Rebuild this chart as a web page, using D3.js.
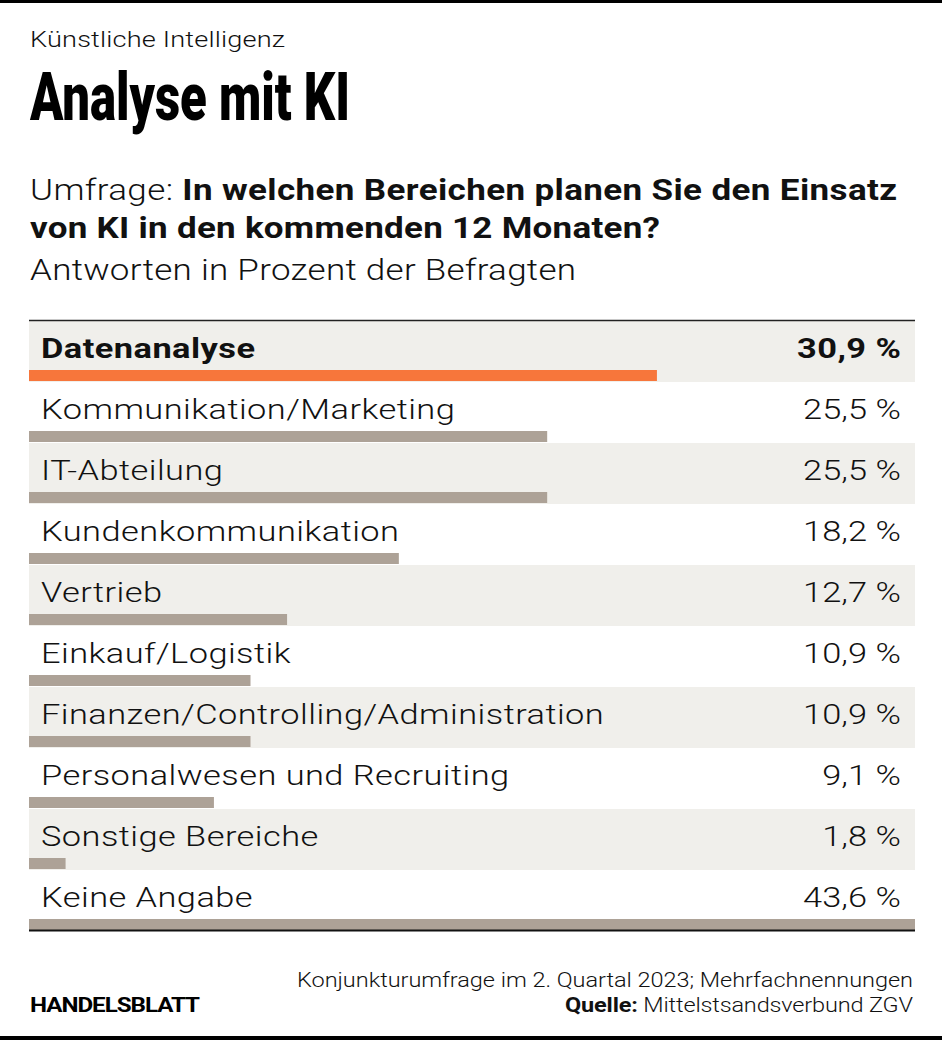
<!DOCTYPE html>
<html><head><meta charset="utf-8">
<script src="https://cdn.jsdelivr.net/npm/d3@7"></script>
<style>body{margin:0;background:#fff} svg{display:block}</style>
</head><body><svg id="c" width="942" height="1040"></svg>
<script>
const categories = ["Datenanalyse","Kommunikation/Marketing","IT-Abteilung","Kundenkommunikation","Vertrieb","Einkauf/Logistik","Finanzen/Controlling/Administration","Personalwesen und Recruiting","Sonstige Bereiche","Keine Angabe"];
const values = [30.9,25.5,25.5,18.2,12.7,10.9,10.9,9.1,1.8,43.6];
const highlight = "Datenanalyse";
const kicker = "Künstliche Intelligenz";
const title = "Analyse mit KI";
const questionLead = "Umfrage: ";
const questionLine1 = "In welchen Bereichen planen Sie den Einsatz";
const questionLine2 = "von KI in den kommenden 12 Monaten?";
const unitNote = "Antworten in Prozent der Befragten";
const footNote = "Konjunkturumfrage im 2. Quartal 2023; Mehrfachnennungen";
const sourceLabel = "Quelle:";
const sourceText = " Mittelstsandsverbund ZGV";
const brand = "HANDELSBLATT";

const FONT = "Roboto, 'Noto Sans', sans-serif";
const INK = "#111";
const svg = d3.select("#c");

// helper: text inside a horizontally scaled group, letter-spacing fitted to a target width
function addText(parent, tx, ty, sx, opts) {
  const g = parent.append("g").attr("transform", `translate(${tx},${ty}) scale(${sx},1)`);
  const t = g.append("text").attr("font-family", FONT).attr("fill", opts.fill || INK)
    .attr("font-size", opts.size).attr("text-anchor", opts.end ? "end" : "start");
  if (opts.weight) t.attr("font-weight", opts.weight);
  return t;
}
function fitLS(t, target, sx, end) {
  t.attr("letter-spacing", 0).attr("dx", 0);
  const w = t.node().getComputedTextLength();
  const n = t.node().getNumberOfChars();
  const ls = (target / sx - w) / Math.max(1, n - 1);
  t.attr("letter-spacing", ls);
  if (end) t.attr("dx", ls);
  return ls;
}

// frame lines
svg.append("rect").attr("x",0).attr("y",0).attr("width",942).attr("height",3).attr("fill","#000");
svg.append("rect").attr("x",0).attr("y",1036).attr("width",942).attr("height",4).attr("fill","#000");

// ---- calibrate horizontal scale + tracking for label font from two reference widths
const LSIZE = 28.5;
const probe = svg.append("text").attr("font-family",FONT).attr("font-size",LSIZE).attr("font-weight",300);
function nat(s){ probe.text(s); return [probe.node().getComputedTextLength(), probe.node().getNumberOfChars()]; }
const [W1,n1] = nat("Kommunikation/Marketing");
const [W2,n2] = nat("Finanzen/Controlling/Administration");
const [WV,nV] = nat(d3.formatLocale({decimal:",", thousands:".", grouping:[3], currency:["","€"]}).format(".1f")(25.5) + " %");
probe.remove();
const T1 = 414, T2 = 563;
const a = (T2*W1 - T1*W2) / ((n2-1)*W1 - (n1-1)*W2);
const SX = (T1 - (n1-1)*a) / W1;
const LS = a / SX;
const LSV = (98 / SX - WV) / (nV - 1);

// header
const k = addText(svg, 30, 47, SX, {size:22.5, weight:300}).text(kicker);
fitLS(k, 255, SX);
svg.append("text").attr("x",30).attr("y",120).attr("font-family",FONT).attr("font-weight",900)
  .attr("font-size",67).attr("fill","#000").attr("textLength",320).attr("lengthAdjust","spacingAndGlyphs").text(title);

const q1 = addText(svg, 30, 200, SX, {size:29});
q1.append("tspan").attr("font-weight",300).text(questionLead);
q1.append("tspan").attr("font-weight",700).text(questionLine1);
fitLS(q1, 867, SX);
const q2 = addText(svg, 30, 238, SX, {size:29, weight:700}).text(questionLine2);
fitLS(q2, 630, SX);
const u = addText(svg, 30, 280, SX, {size:29, weight:300}).text(unitNote);
fitLS(u, 546, SX);

// chart
const x = d3.scaleLinear().domain([0, d3.max(values)]).range([29, 915]);
const y = d3.scaleBand().domain(categories).range([321, 931]).padding(0);
const step = y.step();
const barH = 11, barOff = 49, textOff = 37;
const fmt = d3.formatLocale({decimal:",", thousands:".", grouping:[3], currency:["","€"]}).format(".1f");

const rows = svg.append("g").selectAll("g").data(categories).join("g")
  .attr("transform", d => `translate(0,${y(d)})`);
rows.filter((d,i) => i % 2 === 0).append("rect")
  .attr("x", x(0)).attr("y", 0).attr("width", x.range()[1]-x(0)).attr("height", step).attr("fill","#f0efeb");
rows.append("rect")
  .attr("x", x(0)).attr("y", barOff).attr("height", barH)
  .attr("width", (d,i) => x(values[i]) - x(0))
  .attr("fill", d => d === highlight ? "#f7763b" : "#ada297");

rows.each(function(d, i) {
  const row = d3.select(this);
  const hl = d === highlight;
  const lt = addText(row, 41, textOff, SX, {size:LSIZE, weight: hl ? 700 : 300}).text(d);
  if (hl) fitLS(lt, 214, SX); else lt.attr("letter-spacing", LS);
  const vt = addText(row, 901, textOff, SX, {size:LSIZE, weight: hl ? 700 : 300, end:true}).text(fmt(values[i]) + " %");
  if (hl) fitLS(vt, 104, SX, true); else vt.attr("letter-spacing", LSV).attr("dx", LSV);
});

// rules
svg.append("line").attr("x1",29).attr("x2",915).attr("y1",320.5).attr("y2",320.5).attr("stroke","#222").attr("stroke-width",1.5);
svg.append("line").attr("x1",29).attr("x2",915).attr("y1",930.5).attr("y2",930.5).attr("stroke","#111").attr("stroke-width",2);

// footer
const f1 = addText(svg, 913, 987, SX, {size:19.5, weight:300, end:true}).text(footNote);
fitLS(f1, 616, SX, true);
const f2 = addText(svg, 913, 1012, SX, {size:19.5, end:true});
f2.append("tspan").attr("font-weight",700).text(sourceLabel);
f2.append("tspan").attr("font-weight",300).text(sourceText);
fitLS(f2, 348, SX, true);
const b = addText(svg, 30, 1012, SX, {size:20, weight:700, fill:"#000"}).text(brand);
fitLS(b, 170, SX);
</script></body></html>
